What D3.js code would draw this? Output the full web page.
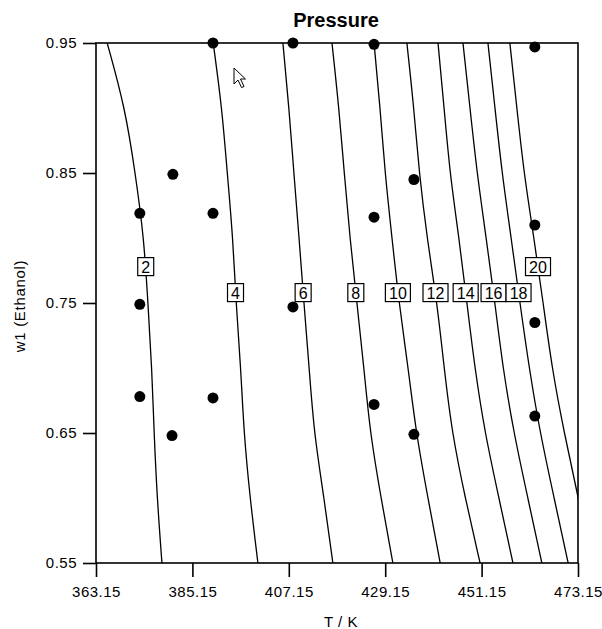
<!DOCTYPE html>
<html>
<head>
<meta charset="utf-8">
<script src="https://cdn.jsdelivr.net/npm/d3@7"></script>
<style>
  html, body { margin: 0; padding: 0; background: #fff; }
  svg { display: block; }
  text { font-family: "Liberation Sans", Arial, sans-serif; fill: #000; }
</style>
</head>
<body>
<svg id="chart" width="602" height="629"></svg>
<script>
// ---- data ----
const xTicks = [363.15, 385.15, 407.15, 429.15, 451.15, 473.15];
const yTicks = [0.55, 0.65, 0.75, 0.85, 0.95];

// w1 values at which each contour's temperature was read
const contourW = [0.95, 0.90, 0.85, 0.80, 0.75, 0.70, 0.65, 0.60, 0.55];
const levels = [2, 4, 6, 8, 10, 12, 14, 16, 18, 20];
const t2  = [365.7, 369.8, 372.1, 374.1, 375.0, 375.9, 376.4, 377.1, 378.2];
const t4  = [389.9, 391.9, 393.1, 394.4, 395.1, 396.2, 396.9, 398.3, 400.1];
const t6  = [405.8, 407.2, 408.3, 409.5, 410.6, 411.8, 412.9, 415.2, 417.2];
const t8  = [417.0, 418.6, 419.8, 421.1, 422.7, 424.3, 425.7, 428.2, 430.9];
const t10 = [426.6, 428.0, 429.1, 430.7, 432.3, 434.4, 436.2, 438.9, 441.7];
const t12 = [434.1, 435.7, 436.9, 438.7, 441.0, 442.6, 444.4, 447.4, 450.8];
const t14 = [441.2, 442.6, 443.9, 446.0, 447.8, 449.6, 451.9, 455.1, 458.3];
const t16 = [446.9, 448.5, 450.1, 452.2, 454.2, 456.0, 458.5, 461.7, 464.9];
const t18 = [452.6, 454.2, 455.8, 457.9, 459.9, 462.0, 464.5, 467.7, 470.9];
const t20 = [457.6, 459.2, 460.8, 463.1, 465.2, 467.2, 470.0, 473.2, 476.4];
const contourT = [t2, t4, t6, t8, t10, t12, t14, t16, t18, t20];
// w1 position of each contour's label
const labelW = [0.778, 0.758, 0.758, 0.758, 0.758, 0.758, 0.758, 0.758, 0.758, 0.778];

// measured points
const dotT = [373.15, 373.15, 373.15, 380.7, 380.5, 389.85, 389.85, 389.85, 408.1, 408.1,
              426.6, 426.6, 426.6, 435.7, 435.7, 463.3, 463.3, 463.3, 463.3];
const dotW = [0.819, 0.749, 0.678, 0.849, 0.648, 0.950, 0.819, 0.677, 0.950, 0.747,
              0.949, 0.816, 0.672, 0.845, 0.649, 0.947, 0.810, 0.735, 0.663];

// ---- drawing ----
const svg = d3.select("#chart");
const M = { left: 96, right: 578, top: 43, bottom: 563 };
const x = d3.scaleLinear().domain([363.15, 473.15]).range([M.left, M.right]);
const y = d3.scaleLinear().domain([0.55, 0.95]).range([M.bottom, M.top]);

svg.append("defs").append("clipPath").attr("id", "plotclip")
  .append("rect").attr("x", M.left).attr("y", M.top)
  .attr("width", M.right - M.left).attr("height", M.bottom - M.top);

const plot = svg.append("g").attr("clip-path", "url(#plotclip)");

const line = d3.line()
  .x(d => x(d[0])).y(d => y(d[1]))
  .curve(d3.curveBasis);

levels.forEach((lv, i) => {
  const pts = contourT[i].map((t, j) => [t, contourW[j]]);
  plot.append("path").attr("d", line(pts))
    .attr("fill", "none").attr("stroke", "#000").attr("stroke-width", 1.3);
});

// labels
function tAt(arr, w) {
  const ws = contourW.slice().reverse();
  const ts = arr.slice().reverse();
  return d3.scaleLinear().domain(ws).range(ts)(w);
}
levels.forEach((lv, i) => {
  const cx = x(tAt(contourT[i], labelW[i]));
  const cy = y(labelW[i]);
  const g = svg.append("g").attr("transform", `translate(${cx},${cy})`);
  const w = String(lv).length > 1 ? 25 : 16;
  g.append("rect").attr("x", -w / 2).attr("y", -9).attr("width", w).attr("height", 18)
    .attr("fill", "#fff").attr("stroke", "#000").attr("stroke-width", 1.2);
  g.append("text").attr("text-anchor", "middle").attr("dy", "0.37em")
    .attr("font-size", 16).text(lv);
});

// dots
svg.append("g").selectAll("circle").data(dotT).join("circle")
  .attr("cx", d => x(d)).attr("cy", (d, i) => y(dotW[i])).attr("r", 5.5)
  .attr("fill", "#000");

// frame
svg.append("rect").attr("x", M.left).attr("y", M.top)
  .attr("width", M.right - M.left).attr("height", M.bottom - M.top)
  .attr("fill", "none").attr("stroke", "#000").attr("stroke-width", 1.6);

// axes
const fmtX = d3.format(".2f");
const xAxis = svg.append("g").attr("transform", `translate(0,${M.bottom})`)
  .call(d3.axisBottom(x).tickValues(xTicks).tickFormat(fmtX).tickSize(14).tickPadding(9));
const yAxis = svg.append("g").attr("transform", `translate(${M.left},0)`)
  .call(d3.axisLeft(y).tickValues(yTicks).tickFormat(d3.format(".2f")).tickSize(13).tickPadding(6));
[xAxis, yAxis].forEach(a => {
  a.select(".domain").remove();
  a.selectAll(".tick line").attr("stroke", "#000").attr("stroke-width", 1.6);
  a.selectAll(".tick text").attr("font-size", 15).attr("letter-spacing", "0.5px")
    .attr("font-family", "'Liberation Sans', Arial, sans-serif").attr("fill", "#000");
});

// titles
svg.append("text").attr("x", 336).attr("y", 27).attr("text-anchor", "middle")
  .attr("font-size", 20).attr("font-weight", "bold").text("Pressure");
svg.append("text").attr("x", 341).attr("y", 627).attr("text-anchor", "middle")
  .attr("font-size", 15).attr("letter-spacing", "0.5px").text("T / K");
svg.append("text").attr("transform", "translate(25,306) rotate(-90)")
  .attr("text-anchor", "middle").attr("font-size", 15).attr("letter-spacing", "0.7px")
  .text("w1 (Ethanol)");

// mouse pointer visible in the screenshot
svg.append("path").attr("transform", "translate(234,68)")
  .attr("d", "M0,0 L0,16 L4,12 L7.5,19.5 L10,18.5 L6.5,11 L11.5,11 Z")
  .attr("fill", "#fff").attr("stroke", "#000").attr("stroke-width", 1);
</script>
</body>
</html>
